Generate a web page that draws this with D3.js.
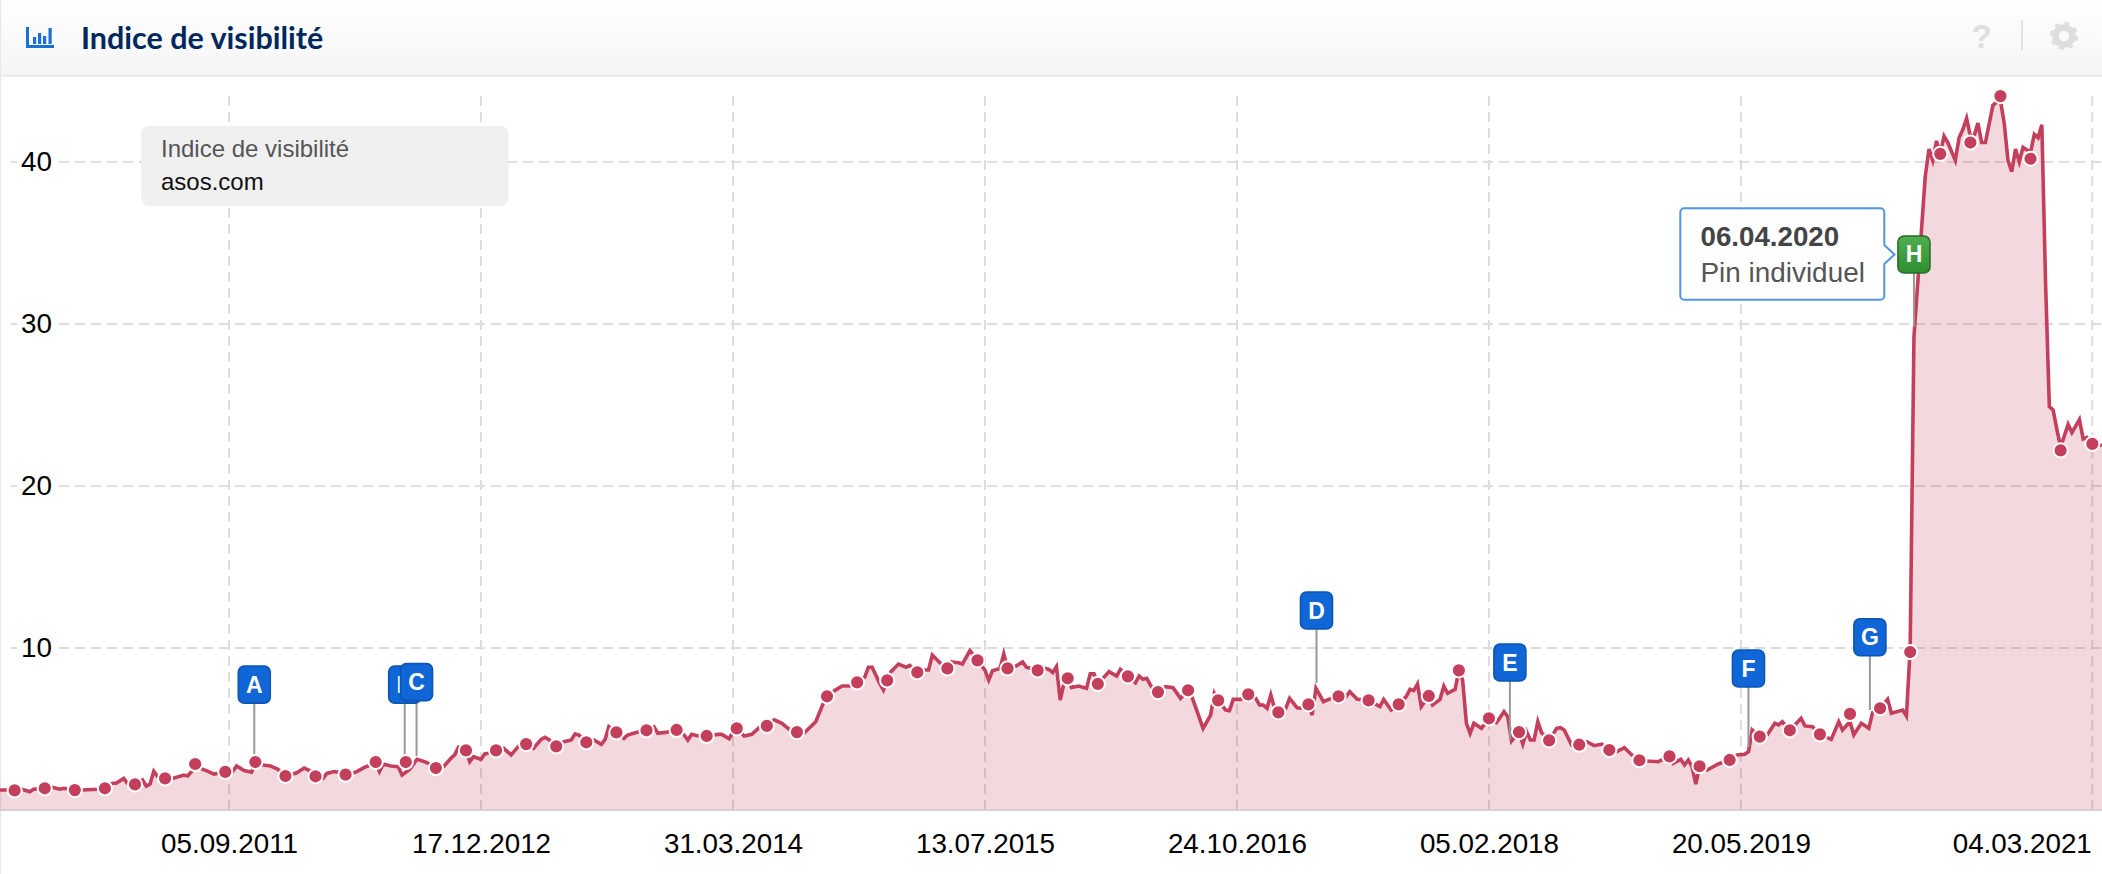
<!DOCTYPE html>
<html lang="fr">
<head>
<meta charset="utf-8">
<title>Indice de visibilité</title>
<script src="https://cdn.jsdelivr.net/npm/d3@7/dist/d3.min.js"></script>
<style>
html,body{margin:0;padding:0;background:#fff;overflow:hidden}
svg{display:block}
text{font-family:"Liberation Sans",Arial,sans-serif}
</style>
</head>
<body>
<svg id="chart" width="2102" height="874"></svg>
<script>
// ---------- data ----------
const chartTitle = "Indice de visibilité";
const legendTitle = "Indice de visibilité";
const legendDomain = "asos.com";
const yTicks = [10, 20, 30, 40];
const xTickLabels = ["05.09.2011","17.12.2012","31.03.2014","13.07.2015","24.10.2016","05.02.2018","20.05.2019","04.03.2021"];
const firstWeek = "05.07.2010";
// week number (since firstWeek) of each line vertex
const lineWeeks = [0,2,4,6,8,9,12,14,16,17,20,22,26,28,30,31,33,34,36,38,39,40,41,42,44,46,49,50,51,52,54,55,57,60,62,63,65,67,68,70,72,74,76,78,79,81,83,84,86,87,89,91,92,
93,95,97,100,101,102,104,106,107,109,111,113,114,116,118,120,121,122,124,125,126,128,129,130,132,134,136,138,140,142,144,145,146,148,150,152,153,154,156,158,160,161,162,164,166,167,169,172,174,175,177,180,182,183,184,185,
186,188,191,192,194,195,196,198,200,202,204,206,208,210,212,214,217,219,220,222,224,226,228,230,231,232,234,235,236,237,239,241,242,244,246,247,248,250,252,253,255,256,258,260,262,263,264,266,267,268,270,272,273,276,278,
279,280,281,282,283,284,285,287,288,289,290,291,292,295,297,298,300,302,303,304,305,307,308,310,312,314,316,317,320,322,323,324,326,327,328,330,332,334,335,336,337,338,339,340,342,343,345,346,348,349,350,352,354,356,358,359,361,364,367,368,370,372,
374,375,376,377,378,380,381,383,384,385,387,388,389,390,391,392,394,396,398,399,400,401,402,404,405,406,407,408,409,410,412,414,415,416,418,420,422,424,426,428,430,432,434,436,438,441,442,444,445,447,448,449,450,451,452,454,457,460,462,464,
465,466,468,470,472,473,474,476,479,480,482,484,487,489,490,492,493,495,497,498,500,502,503,506,507,508,
509,511,512,513,514,515,516,517,518,520,521,522,523,524,525,526,527,528,530,531,532,533,534,535,536,537,538,540,541,542,543,544,545,546,547,548,549,550,551,552,553,554,555,556,557,559];
// visibility index at each of those weeks
const lineValues = [1.23,1.23,1.21,1.28,1.13,1.28,1.34,1.40,1.28,1.34,1.23,1.23,1.28,1.34,1.65,1.65,1.95,1.65,1.58,1.85,1.48,1.60,2.39,2.06,1.95,1.95,2.16,2.10,2.37,2.78,2.51,2.43,2.22,2.35,2.37,2.72,2.43,2.33,2.96,2.78,2.72,2.51,2.10,2.22,2.30,2.59,2.37,2.08,1.95,2.26,2.37,2.30,2.18,
2.22,2.37,2.63,2.88,2.37,2.84,2.72,2.67,2.16,2.50,3.13,2.98,2.88,2.57,2.67,3.19,3.40,3.87,3.68,2.98,3.29,3.13,3.46,3.50,3.68,3.81,3.40,3.95,4.07,3.81,4.36,4.49,4.36,3.93,4.22,4.32,4.69,4.63,4.18,4.32,4.05,4.36,5.14,4.79,4.42,4.63,4.77,4.92,5.14,4.73,4.79,4.94,4.63,4.32,4.67,4.61,
4.57,4.57,4.67,4.67,4.40,4.84,5.04,4.57,4.67,5.10,5.19,5.56,5.35,4.98,4.81,4.77,5.45,6.58,7.02,7.37,7.65,7.65,7.88,8.19,8.81,8.81,7.82,7.41,8.00,8.54,9.01,8.81,8.93,8.50,8.64,8.64,9.57,9.09,8.74,9.14,9.09,9.01,9.84,9.24,8.64,8.02,8.60,8.74,9.63,8.74,8.85,9.14,8.81,8.62,8.74,
8.68,8.48,8.85,6.79,7.82,8.13,7.57,7.65,7.57,7.51,8.40,8.40,7.78,8.54,8.27,8.68,8.25,7.86,8.27,8.07,8.13,7.30,7.28,7.61,7.55,6.89,7.39,7.00,5.04,5.86,7.20,6.77,6.17,6.13,6.83,6.83,7.14,6.89,6.48,6.48,6.28,7.10,6.28,6.03,6.28,6.89,6.31,6.28,6.52,5.86,7.51,6.69,6.89,7.02,7.00,7.30,6.83,6.77,6.38,6.83,6.17,6.52,
7.00,7.45,7.37,7.78,6.38,7.04,6.48,6.83,7.65,7.20,7.45,8.62,8.02,5.35,4.73,5.35,5.04,5.66,5.39,5.72,6.07,5.76,4.26,4.81,4.07,4.84,4.32,4.32,5.45,4.77,4.30,5.04,5.08,4.94,4.01,4.03,4.22,3.97,4.07,3.70,3.60,3.85,3.40,3.07,3.02,2.98,3.09,3.31,2.88,3.13,2.78,3.09,2.67,1.60,2.70,2.47,2.84,3.09,3.40,3.44,
3.60,4.94,4.53,4.63,5.35,5.25,5.45,4.92,5.66,5.19,5.14,4.67,4.36,5.45,4.94,5.45,4.63,5.35,5.04,6.01,6.28,6.83,5.97,6.17,5.80,10.0,
29.2,35.8,39.1,40.8,40.1,41.3,40.5,41.6,41.2,40.1,41.5,42.0,42.7,41.6,41.6,42.4,41.2,41.2,43.5,43.7,43.8,42.4,40.1,39.4,40.8,40.0,40.9,40.6,41.7,41.5,42.3,32.5,24.9,24.7,23.5,22.4,23.1,23.8,23.3,23.7,24.1,22.9,23.0,22.7,22.6,22.5];
// round markers, one every eight weeks from "02.08.2010", then the last date
const markerFirst = "02.08.2010";
const markerLast = "04.03.2021";
const markerValues = [1.21,1.34,1.23,1.34,1.58,1.95,2.84,2.35,2.96,2.10,2.08,2.18,2.96,2.96,2.59,3.68,3.68,4.07,3.93,4.18,4.79,4.92,4.94,4.57,5.04,5.19,4.81,7.02,7.88,8.00,8.50,8.74,9.24,8.74,8.62,8.13,7.78,8.25,7.28,7.39,6.77,7.14,6.03,6.52,7.02,6.77,6.52,7.04,8.62,5.66,4.81,4.30,4.03,3.70,3.07,3.31,2.70,3.09,4.53,4.92,4.67,5.93,6.28,9.75,40.5,41.2,44.07,40.2,22.2,22.6];
// pins
const pinLetters = ["A","B","C","D","E","F","G","H"];
const pinDates = ["22.10.2011","28.07.2012","19.08.2012","21.03.2017","16.03.2018","03.06.2019","15.01.2020","06.04.2020"];
const pinAnchor = [3.27,3.27,3.33,7.84,4.32,3.89,6.17,29.83];   // where the stem ends
const pinLevel = [6.6,6.6,6.75,11.17,7.96,7.59,9.52,33.15];     // bottom of the flag
const tooltipDate = "06.04.2020";
const tooltipText = "Pin individuel";

// ---------- setup ----------
const W = 2102, H = 874;
const parse = d3.utcParse("%d.%m.%Y");
const svg = d3.select("#chart");
const start = parse(firstWeek);
const weekDate = w => d3.utcDay.offset(start, w * 7);
const x = d3.scaleUtc().domain([start, parse("22.03.2021")]).range([-0.4, W]);
const y = d3.scaleLinear().domain([0, 40]).range([810, 162]);
const series = lineWeeks.map((w, i) => ({date: weekDate(w), value: lineValues[i]}));
const markers = markerValues.map((v, k) => ({
  date: k === markerValues.length - 1 ? parse(markerLast) : d3.utcDay.offset(parse(markerFirst), 56 * k),
  value: v
}));
const RED = "#c43f5b";

// ---------- header ----------
const defs = svg.append("defs");
const hg = defs.append("linearGradient").attr("id","hdr").attr("x1",0).attr("x2",0).attr("y1",0).attr("y2",1);
hg.append("stop").attr("offset",0).attr("stop-color","#ffffff");
hg.append("stop").attr("offset",1).attr("stop-color","#f5f5f5");
const gg = defs.append("linearGradient").attr("id","green").attr("x1",0).attr("x2",0).attr("y1",0).attr("y2",1);
gg.append("stop").attr("offset",0).attr("stop-color","#4fae4f");
gg.append("stop").attr("offset",1).attr("stop-color","#2f8f2f");

svg.append("rect").attr("width",W).attr("height",75).attr("fill","url(#hdr)");
svg.append("rect").attr("y",75).attr("width",W).attr("height",1.5).attr("fill","#e6e6e6");
svg.append("rect").attr("width",1.2).attr("height",H).attr("fill","#e8e8e8");

const icon = svg.append("g").attr("fill","#1a6fd8");
icon.append("rect").attr("x",26).attr("y",27).attr("width",3).attr("height",21);
icon.append("rect").attr("x",26).attr("y",45).attr("width",28).attr("height",3);
[[33,37,7],[38,33,11],[43,36,8],[48.5,28,16]].forEach(b =>
  icon.append("rect").attr("x",b[0]).attr("y",b[1]).attr("width",3.2).attr("height",b[2]));

svg.append("text").attr("x",81).attr("y",49).attr("fill","#00285c")
  .attr("font-size",30.5).attr("font-weight",700).style("font-family","Lato, Inter, sans-serif").text(chartTitle);

svg.append("text").attr("x",1981.5).attr("y",48).attr("text-anchor","middle").attr("fill","#dfdfdf")
  .attr("font-size",33).attr("font-weight",700).text("?");
svg.append("rect").attr("x",2021).attr("y",20).attr("width",2).attr("height",30).attr("fill","#e2e2e2");
const gear = svg.append("g").attr("transform","translate(2064,36)").attr("fill","none").attr("stroke","#dedede");
gear.append("circle").attr("r",8.5).attr("stroke-width",6.5);
gear.append("circle").attr("r",11.5).attr("stroke-width",5).attr("stroke-dasharray",(2*Math.PI*11.5/16)+"");

// ---------- grid ----------
const grid = svg.append("g").attr("fill","none").attr("stroke","#dddddd").attr("stroke-width",2).attr("stroke-dasharray","10 6");
grid.selectAll("line.h").data(yTicks).join("line").attr("class","h")
  .attr("x1",11).attr("x2",W).attr("y1",d=>y(d)).attr("y2",d=>y(d));
grid.selectAll("line.v").data(xTickLabels).join("line").attr("class","v")
  .attr("x1",d=>x(parse(d))).attr("x2",d=>x(parse(d))).attr("y1",96).attr("y2",810);

// ---------- legend ----------
svg.append("rect").attr("x",141).attr("y",126).attr("width",367.5).attr("height",80).attr("rx",8)
  .attr("fill","#efefef").attr("fill-opacity",0.93);
svg.append("text").attr("x",161).attr("y",157).attr("font-size",24).attr("fill","#555").text(legendTitle);
svg.append("text").attr("x",161).attr("y",190).attr("font-size",24).attr("fill","#111").text(legendDomain);

// ---------- area and line ----------
svg.append("path").datum(series).attr("fill",RED).attr("fill-opacity",0.2)
  .attr("d",d3.area().x(d=>x(d.date)).y0(y(0)).y1(d=>y(d.value)));
svg.append("rect").attr("x",0).attr("y",809).attr("width",W).attr("height",2).attr("fill","#dccdd0");
svg.append("path").datum(series).attr("fill","none").attr("stroke",RED).attr("stroke-width",3.6)
  .attr("stroke-linejoin","miter").attr("d",d3.line().x(d=>x(d.date)).y(d=>y(d.value)));

// ---------- axes ----------
const yAxis = svg.append("g").attr("transform","translate(52,0)")
  .call(d3.axisLeft(y).tickValues(yTicks).tickSize(0).tickPadding(0).tickFormat(d3.format("d")));
yAxis.select(".domain").remove();
yAxis.selectAll(".tick").insert("rect","text").attr("x",-35).attr("y",-3).attr("width",42).attr("height",6).attr("fill","#fff");
yAxis.selectAll("text").attr("font-size",27.8).attr("fill","#000").style("font-family",'"Liberation Sans",Arial,sans-serif');

const xAxis = svg.append("g").attr("transform","translate(0,810)")
  .call(d3.axisBottom(x).tickValues(xTickLabels.map(parse)).tickSize(0).tickPadding(0)
    .tickFormat(d3.utcFormat("%d.%m.%Y")));
xAxis.select(".domain").remove();
xAxis.selectAll("text").attr("font-size",27.8).attr("fill","#000").attr("dy",null).attr("y",43)
  .style("font-family",'"Liberation Sans",Arial,sans-serif');
xAxis.selectAll(".tick:last-of-type text").attr("text-anchor","end").attr("x",-1);

// ---------- pins: stems, then markers, then flags ----------
const pins = pinLetters.map((l,i)=>({letter:l,date:parse(pinDates[i]),anchor:pinAnchor[i],level:pinLevel[i]}));
svg.append("g").selectAll("line").data(pins).join("line")
  .attr("x1",d=>x(d.date)).attr("x2",d=>x(d.date))
  .attr("y1",d=>y(d.level)).attr("y2",d=>y(d.anchor))
  .attr("stroke","#999").attr("stroke-width",2);

svg.append("g").selectAll("circle").data(markers).join("circle")
  .attr("cx",d=>x(d.date)).attr("cy",d=>y(d.value)).attr("r",7.1)
  .attr("fill",RED).attr("stroke","#fff").attr("stroke-width",2);

const flag = svg.append("g").selectAll("g").data(pins).join("g")
  .attr("transform",d=>`translate(${x(d.date)},${y(d.level)})`);
flag.append("rect").attr("x",-16).attr("y",-37).attr("width",32).attr("height",37).attr("rx",6)
  .attr("fill",d=>d.letter==="H"?"url(#green)":"#1066d6")
  .attr("stroke",d=>d.letter==="H"?"#2c6a30":"#0b55b4").attr("stroke-width",1.6);
flag.append("text").attr("y",-10.5).attr("text-anchor","middle").attr("fill","#fff")
  .attr("font-size",23).attr("font-weight",700).text(d=>d.letter);

// ---------- tooltip ----------
const tip = svg.append("g");
tip.append("path")
  .attr("d","M1684.3,208.3H1880.3a4,4 0 0 1 4,4V245L1894.5,254.5L1884.3,264V295.7a4,4 0 0 1 -4,4H1684.3a4,4 0 0 1 -4,-4V212.3a4,4 0 0 1 4,-4Z")
  .attr("fill","#fff").attr("fill-opacity",0.92).attr("stroke","#4f97e6").attr("stroke-width",2);
tip.append("text").attr("x",1700.5).attr("y",246).attr("font-size",27.7).attr("font-weight",700).attr("fill","#444").text(tooltipDate);
tip.append("text").attr("x",1700.5).attr("y",282).attr("font-size",27.9).attr("fill","#555").text(tooltipText);
</script>
</body>
</html>
